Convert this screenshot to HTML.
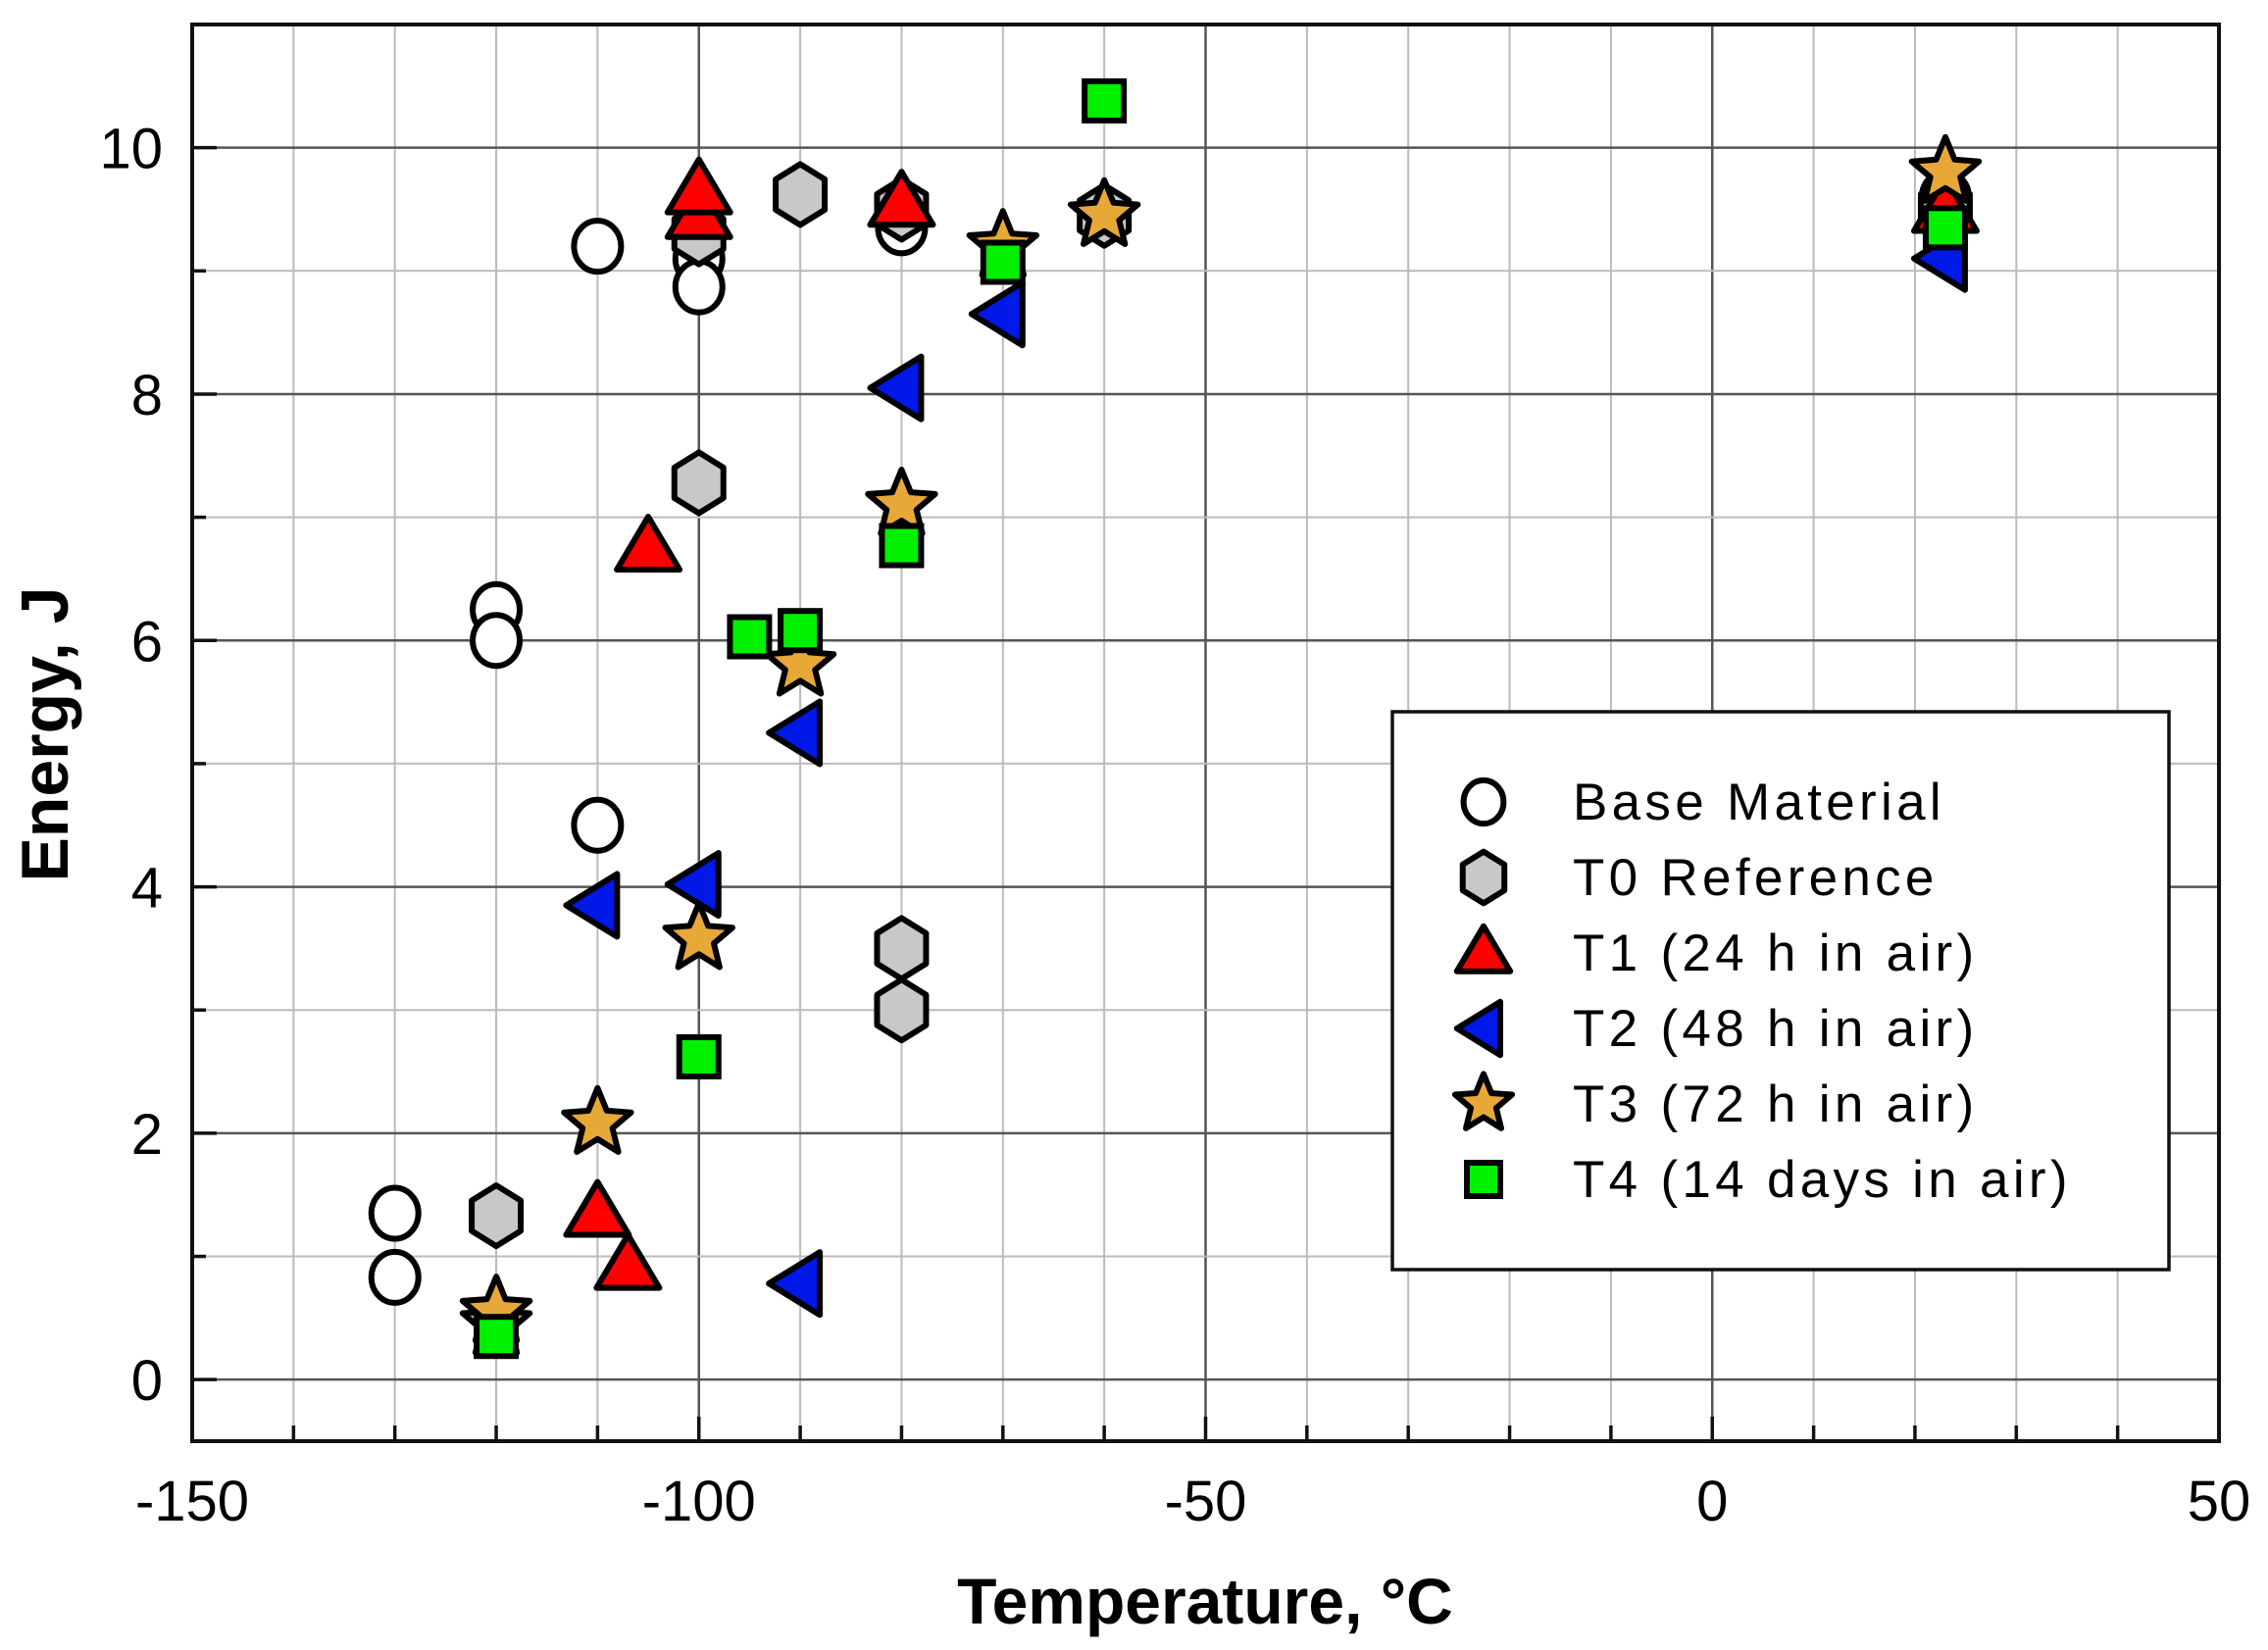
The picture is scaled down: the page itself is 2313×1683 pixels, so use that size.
<!DOCTYPE html>
<html><head><meta charset="utf-8"><style>
html,body{margin:0;padding:0;background:#fff;}
svg{display:block;font-family:"Liberation Sans",Arial,sans-serif;}
</style></head><body>
<svg id="chart" width="2313" height="1683" viewBox="0 0 2313 1683" xmlns="http://www.w3.org/2000/svg">
<g id="grid"></g>
<g id="axes"></g>
<g id="marks"></g>
<text x="1229" y="1656" text-anchor="middle" font-size="66" font-weight="bold">Temperature, °C</text>
<text transform="translate(69,749) rotate(-90)" text-anchor="middle" font-size="68" font-weight="bold">Energy, J</text>
<g id="legend"></g>
</svg>
<script>
const xTicks=[-150,-100,-50,0,50];
const yTicks=[0,2,4,6,8,10];
const seriesNames=["Base Material","T0 Reference","T1 (24 h in air)","T2 (48 h in air)","T3 (72 h in air)","T4 (14 days in air)"];
const baseX=[-130,-130,-120,-120,-110,-110,-100,-100,-80,-80,-60,23];
const baseY=[1.35,0.83,6.25,6.0,9.2,4.5,9.1,8.87,9.5,9.35,9.45,9.6];
const t0X=[-120,-100,-100,-90,-80,-80,-80,-60,23];
const t0Y=[1.33,9.3,7.28,9.62,3.5,3.0,9.5,9.45,9.5];
const t1X=[-100,-100,-105,-110,-107,-80,23];
const t1Y=[9.45,9.65,6.75,1.35,0.92,9.55,9.5];
const t2X=[-110,-100,-90,-90,-80,-70,23];
const t2Y=[3.85,4.02,0.78,5.25,8.05,8.65,9.1];
const t3X=[-120,-120,-110,-100,-90,-80,-70,-60,23];
const t3Y=[0.45,0.55,2.08,3.58,5.8,7.1,9.2,9.45,9.8];
const t4X=[-120,-100,-95,-90,-80,-70,-60,23];
const t4Y=[0.35,2.62,6.03,6.08,6.77,9.07,10.38,9.35];

const NS="http://www.w3.org/2000/svg";
const L=196,R=2263,T=25,B=1470;
const xMin=-150,xMax=50,yMin=-0.5,yMax=11;
const sx=v=>L+(v-xMin)/(xMax-xMin)*(R-L);
const sy=v=>B-(v-yMin)/(yMax-yMin)*(B-T);
function mk(tag,attrs,parent){const e=document.createElementNS(NS,tag);for(const k in attrs)e.setAttribute(k,attrs[k]);parent.appendChild(e);return e;}
const grid=document.getElementById('grid'),axes=document.getElementById('axes'),marks=document.getElementById('marks'),legend=document.getElementById('legend');
for(let v=-140;v<50;v+=10){const major=v%50===0;const l=mk('line',{x1:sx(v),x2:sx(v),y1:T,y2:B,stroke:major?'#555':'#bbb','stroke-width':major?2.5:2},grid);

}
for(let v=0;v<=11;v+=1){const major=v%2===0;const l=mk('line',{x1:L,x2:R,y1:sy(v),y2:sy(v),stroke:major?'#555':'#bbb','stroke-width':major?2.5:2},grid);

}
const frame=mk('rect',{x:L,y:T,width:R-L,height:B-T,fill:'none',stroke:'#111','stroke-width':4},axes);


for(let v=-140;v<50;v+=10){const t=mk('line',{x1:sx(v),x2:sx(v),y1:B,y2:B-(v%50===0?25:16),stroke:'#111','stroke-width':3.5},axes);

}
for(let v=0;v<=11;v+=1){const t=mk('line',{x1:L,x2:L+(v%2===0?25:14),y1:sy(v),y2:sy(v),stroke:'#111','stroke-width':3.5},axes);

}
xTicks.forEach(v=>{const t=mk('text',{x:sx(v),y:1551,'text-anchor':'middle','font-size':58},axes);t.textContent=v;

});
yTicks.forEach(v=>{const t=mk('text',{x:166,y:sy(v)+21,'text-anchor':'end','font-size':58},axes);t.textContent=v;

});

function star(cx,cy,ro,ri){let p=[];for(let i=0;i<10;i++){const r=i%2?ri:ro;const a=-Math.PI/2+i*Math.PI/5;p.push((cx+r*Math.cos(a)).toFixed(1)+','+(cy+r*Math.sin(a)).toFixed(1));}return p.join(' ');}
function hex(cx,cy,w,h){return [[cx,cy-h/2],[cx+w/2,cy-h/4],[cx+w/2,cy+h/4],[cx,cy+h/2],[cx-w/2,cy+h/4],[cx-w/2,cy-h/4]].map(p=>p.join(',')).join(' ');}
function marker(s,cx,cy,parent,sc){sc=sc||1;const sw=6;let e;
if(s===0)e=mk('ellipse',{cx,cy,rx:24*sc,ry:26*sc,fill:'#fff',stroke:'#000','stroke-width':sw},parent);
else if(s===1)e=mk('polygon',{points:hex(cx,cy,50*sc,62*sc),fill:'#c8c8c8',stroke:'#000','stroke-width':sw,'stroke-linejoin':'round'},parent);
else if(s===2)e=mk('polygon',{points:`${cx},${cy-32*sc} ${cx+32*sc},${cy+22*sc} ${cx-32*sc},${cy+22*sc}`,fill:'#f00',stroke:'#000','stroke-width':sw,'stroke-linejoin':'round'},parent);
else if(s===3)e=mk('polygon',{points:`${cx-32*sc},${cy} ${cx+20*sc},${cy-32*sc} ${cx+20*sc},${cy+32*sc}`,fill:'#0018e8',stroke:'#000','stroke-width':sw,'stroke-linejoin':'round'},parent);
else if(s===4)e=mk('polygon',{points:star(cx,cy,36*sc,16*sc),fill:'#e8a838',stroke:'#000','stroke-width':sw,'stroke-linejoin':'round'},parent);
else e=mk('rect',{x:cx-20*sc,y:cy-20*sc,width:40*sc,height:40*sc,fill:'#00f000',stroke:'#000','stroke-width':sw},parent);
return e;}
const allX=[baseX,t0X,t1X,t2X,t3X,t4X],allY=[baseY,t0Y,t1Y,t2Y,t3Y,t4Y];
const slugs=['base-material','t0-reference','t1-24h','t2-48h','t3-72h','t4-14days'];
for(let s=0;s<6;s++){for(let i=0;i<allX[s].length;i++){const e=marker(s,sx(allX[s][i]),sy(allY[s][i]),marks);

}}
const box=mk('rect',{x:1420,y:726,width:792,height:569,fill:'#fff',stroke:'#111','stroke-width':3.5},legend);


const rowY=[818,895,972,1049,1126,1203];
for(let s=0;s<6;s++){const m=marker(s,1513,rowY[s],legend,0.85);


const t=mk('text',{x:1604,y:rowY[s]+18,'font-size':53,'letter-spacing':4.3},legend);t.textContent=seriesNames[s];

}
</script>
</body></html>
